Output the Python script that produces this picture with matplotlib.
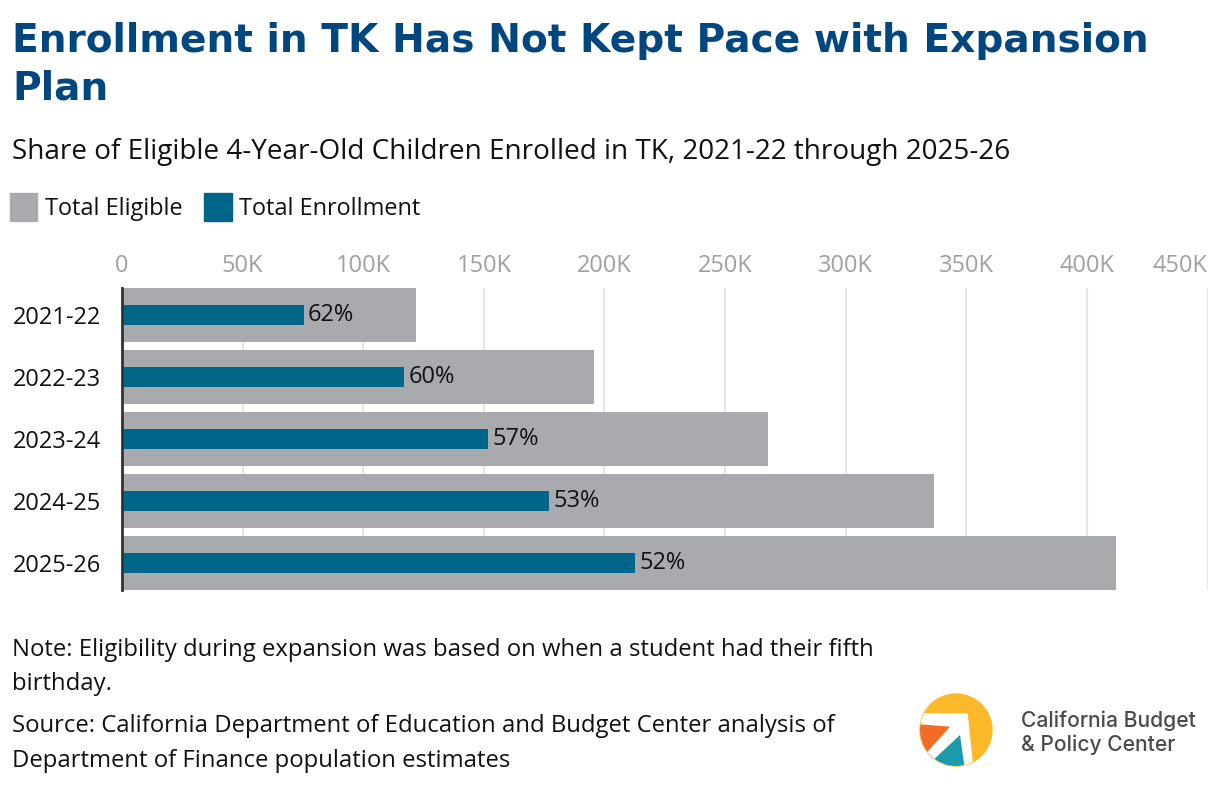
import matplotlib.pyplot as plt
from matplotlib.patches import Rectangle, Circle, Polygon

W, H = 1220, 788

# data (thousands of children)
years = ['2021-22', '2022-23', '2023-24', '2024-25', '2025-26']
eligible = [121.9, 195.6, 267.7, 336.6, 412.0]
enrolled = [75.4, 117.0, 151.8, 177.2, 212.8]
pct_labels = ['62%', '60%', '57%', '53%', '52%']
xticks = [0, 50, 100, 150, 200, 250, 300, 350, 400, 450]
xtick_labels = ['0', '50K', '100K', '150K', '200K', '250K', '300K', '350K', '400K', '450K']

GREY = '#a9aaae'
TEAL = '#006689'
BLUE = '#00477f'
BODY = 'Open Sans'

plt.rcParams['font.family'] = [BODY, 'DejaVu Sans']

fig = plt.figure(figsize=(W / 100, H / 100), dpi=100)
fig.patch.set_facecolor('white')
r = fig.canvas.get_renderer()


def fx(px):
    return px / W


def fy(py):
    return 1 - py / H


def fit(t, target):
    # scale font so the text has the width seen in the reference
    w = t.get_window_extent(r).width
    t.set_fontsize(t.get_fontsize() * target / w)
    return t


# titles
t1 = fig.text(fx(12), fy(52), 'Enrollment in TK Has Not Kept Pace with Expansion',
              fontsize=30, fontweight='bold', color=BLUE, family='DejaVu Sans')
fit(t1, 1138)
fig.text(fx(12), fy(100), 'Plan', fontsize=t1.get_fontsize(), fontweight='bold',
         color=BLUE, family='DejaVu Sans')
st = fig.text(fx(12), fy(159), 'Share of Eligible 4-Year-Old Children Enrolled in TK, 2021-22 through 2025-26',
              fontsize=19, color='#111111')
fit(st, 1000)

# legend
fig.patches.append(Rectangle((fx(10), fy(221)), 27 / W, 28 / H, transform=fig.transFigure,
                             color=GREY))
fig.patches.append(Rectangle((fx(204), fy(221)), 28 / W, 28 / H, transform=fig.transFigure,
                             color=TEAL))
lg1 = fig.text(fx(45), fy(215), 'Total Eligible', fontsize=17, color='#111111')
fit(lg1, 138)
lg2 = fig.text(fx(239), fy(215), 'Total Enrollment', fontsize=lg1.get_fontsize(), color='#111111')

# chart
ax = fig.add_axes([fx(122), fy(590), (1207.5 - 122) / W, 302 / H])
pos = list(range(len(years)))
ax.barh(pos, eligible, height=0.871, color=GREY, zorder=2)
ax.barh(pos, enrolled, height=0.323, color=TEAL, zorder=3)
for i in pos:
    ax.annotate(pct_labels[i], (enrolled[i], i), xytext=(3, 0), textcoords='offset points',
                va='center', ha='left', fontsize=17, color='#111111', zorder=4)

ax.set_xlim(0, 450)
ax.set_ylim(len(years) - 1 + 0.4355, -0.4355)
ax.set_xticks(xticks, xtick_labels)
ax.set_yticks(pos, years)
ax.xaxis.tick_top()
ax.tick_params(axis='x', length=0, pad=7, labelsize=17, labelcolor='#a0a0a0')
ax.tick_params(axis='y', length=0, pad=15, labelsize=17, labelcolor='#111111')
ax.get_xticklabels()[-1].set_ha('right')
ax.grid(axis='x', color='#e6e6e6', lw=1.5, zorder=0)
ax.set_axisbelow(True)
for s in ['top', 'right', 'bottom']:
    ax.spines[s].set_visible(False)
ax.spines['left'].set_color('#333333')
ax.spines['left'].set_linewidth(2)
ax.spines['left'].set_zorder(5)

# notes
n1 = fig.text(fx(12), fy(656), 'Note: Eligibility during expansion was based on when a student had their fifth',
              fontsize=17, color='#111111')
fit(n1, 861)
fs = n1.get_fontsize()
fig.text(fx(12), fy(690), 'birthday.', fontsize=fs, color='#111111')
fig.text(fx(12), fy(732), 'Source: California Department of Education and Budget Center analysis of',
         fontsize=fs, color='#111111')
fig.text(fx(12), fy(767), 'Department of Finance population estimates', fontsize=fs, color='#111111')

# logo
lax = fig.add_axes([fx(900), fy(780), 100 / W, 100 / H])
lax.set_xlim(900, 1000)
lax.set_ylim(780, 680)
lax.axis('off')


def z(x, y):
    return (900 + x / 3, 680 + y / 3)


circ = Circle((956, 730), 36, color='#fbb829')
lax.add_patch(circ)
shapes = [
    ([z(0, 100), z(203, 100), z(224, 300), z(0, 300)], 'white'),
    ([z(0, 128), z(150, 140), z(40, 262), z(0, 262)], '#f26b27'),
    ([z(180, 165), z(199, 300), z(35, 300)], '#1c9bab'),
]
for pts, col in shapes:
    p = Polygon(pts, closed=True, color=col, lw=0)
    lax.add_patch(p)
    p.set_clip_path(circ)
lax.plot([1007, 1007], [703, 761], color='#c8c8c8', lw=1)

lt = fig.text(fx(1021), fy(727), 'California Budget', fontsize=15, color='#4a4a4a',
              family='Inter', fontweight='medium')
fit(lt, 175)
fig.text(fx(1021), fy(751), '& Policy Center', fontsize=lt.get_fontsize(), color='#4a4a4a',
         family='Inter', fontweight='medium')

fig.savefig('out.png', dpi=100)
